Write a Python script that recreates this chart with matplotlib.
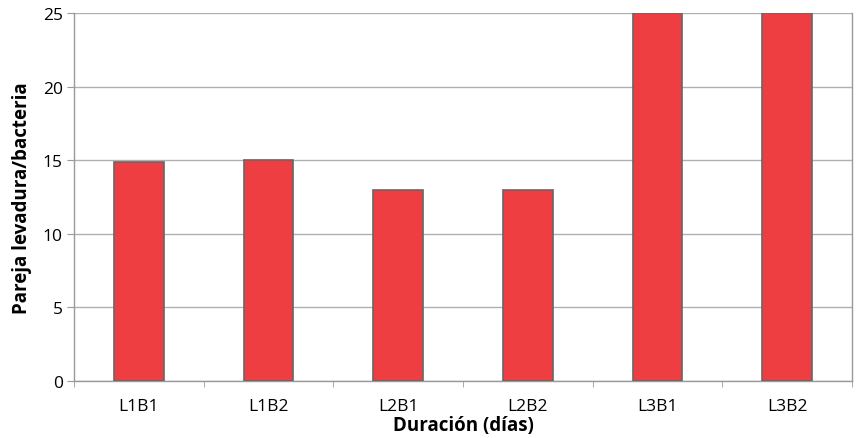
import matplotlib
matplotlib.use("Agg")
import matplotlib.pyplot as plt
import numpy as np

categories = ["L1B1", "L1B2", "L2B1", "L2B2", "L3B1", "L3B2"]
values = [14.85, 15.0, 13.0, 13.0, 25.0, 25.0]

plt.rcParams['font.family'] = ['Open Sans', 'DejaVu Sans']

fig = plt.figure(figsize=(8.58, 4.39), dpi=100)
ax = fig.add_axes([74 / 858, 1 - 382 / 439, 778 / 858, 368 / 439])

x = np.arange(len(categories))
ax.bar(x, values, width=0.385, color="#ef3e42", edgecolor="#666666", linewidth=1.2, zorder=3)

ax.set_xlim(-0.5, len(categories) - 0.5)
ax.set_ylim(0, 25)
ax.set_yticks(np.arange(0, 26, 5))
ax.yaxis.grid(True, color="#b0b0b0", linewidth=1.0, zorder=0)

ax.set_xticks(x)
ax.set_xticklabels(categories)
ax.set_xticks(np.arange(-0.5, len(categories), 1), minor=True)
ax.tick_params(axis="x", which="major", length=0, pad=12, labelsize=12.5)
ax.tick_params(axis="x", which="minor", length=4, color="#999999")
ax.tick_params(axis="y", length=5, color="#999999", labelsize=12.5, pad=3)

ax.spines["top"].set_visible(False)
for side in ["left", "bottom", "right"]:
    ax.spines[side].set_color("#999999")
    ax.spines[side].set_linewidth(1.0)

ax.set_xlabel("Duración (días)", fontsize=13.5, fontweight="bold", labelpad=1)
ax.set_ylabel("Pareja levadura/bacteria", fontsize=13.5, fontweight="bold", labelpad=8)

fig.savefig("out.png", dpi=100)
